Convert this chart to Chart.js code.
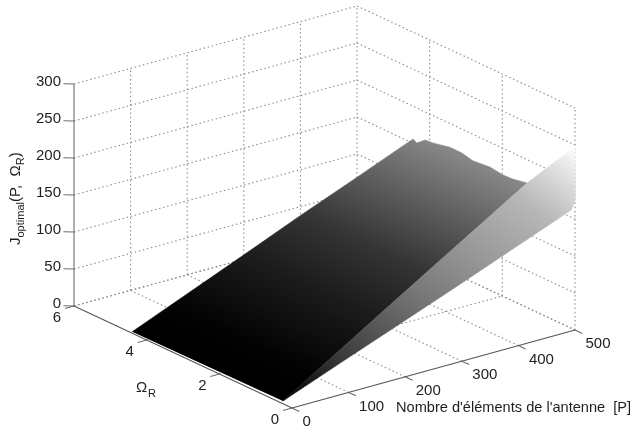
<!DOCTYPE html>
<html>
<head>
<meta charset="utf-8">
<style>html,body{margin:0;padding:0;background:#fff}canvas{display:block}</style>
<script src="https://cdn.jsdelivr.net/npm/chart.js@4"></script>
</head>
<body>
<canvas id="c" width="633" height="430"></canvas>
<script>
// ---- axis ticks ----
const pTicks = [0, 100, 200, 300, 400, 500];
const omegaTicks = [0, 2, 4, 6];
const jTicks = [0, 50, 100, 150, 200, 250, 300];
const pMax = 500, omegaMax = 6;

// ---- surface ----
// left rim of the surface
const leftEdgeP = [0, 100, 200, 300, 400, 500];
const leftEdgeOmega = [4.4, 4.41, 4.42, 4.44, 4.45, 4.46];
const leftEdgeJ = [2, 33, 64, 95, 125, 155.7];
// wavy rim at the far end (P = 500)
const farRowOmega = [4.35, 4.13, 3.91, 3.44, 3.11, 2.81, 2.34, 1.98, 1.71];
const farRowJ = [152.9, 161.9, 163, 168, 167.7, 164, 166.5, 164, 164.7];
// ridge separating the dark slope from the bright strip
const ridgeP = [0, 100, 200, 300, 400, 500];
const ridgeOmega = [0.25, 0.46, 0.68, 0.89, 1.1, 1.32];
const ridgeJ = [3.7, 37, 70, 103, 136, 168.4];
// crest of the bright strip at P = 500
const crestOmega = [0.66, 0];
const crestJ = [208, 247];
const endDropOmega = [0];
const endDropJ = [175];
// low rim of the bright strip
const lowEdgeP = [500, 400, 300, 200, 100, 0];
const lowEdgeOmega = [0.1, 0.1, 0.12, 0.15, 0.2, 0.25];
const lowEdgeJ = [160, 130, 99, 68, 36, 3.7];

// ---- view of the box (orthographic) ----
const view = {ox: 292, oy: 408, px: 283, py: -78, wx: -218, wy: -102, jy: -0.74};
function proj(P, W, J) {
  return {
    x: view.ox + P / pMax * view.px + W / omegaMax * view.wx,
    y: view.oy + P / pMax * view.py + W / omegaMax * view.wy + J * view.jy
  };
}
const seg = (a, b) => [proj(a[0], a[1], a[2]), proj(b[0], b[1], b[2])];

const ctx2d = document.getElementById('c').getContext('2d');
function ramp(x0, y0, x1, y1, stops) {
  const g = ctx2d.createLinearGradient(x0, y0, x1, y1);
  stops.forEach(s => g.addColorStop(s[0], s[1]));
  return g;
}

// ---- surface polygons ----
const darkPoly = [];
leftEdgeP.forEach((p, i) => darkPoly.push(proj(p, leftEdgeOmega[i], leftEdgeJ[i])));
farRowOmega.forEach((w, i) => darkPoly.push(proj(pMax, w, farRowJ[i])));
for (let i = ridgeP.length - 1; i >= 0; i--) darkPoly.push(proj(ridgeP[i], ridgeOmega[i], ridgeJ[i]));

const stripPoly = [];
ridgeP.forEach((p, i) => stripPoly.push(proj(p, ridgeOmega[i], ridgeJ[i])));
crestOmega.forEach((w, i) => stripPoly.push(proj(pMax, w, crestJ[i])));
endDropOmega.forEach((w, i) => stripPoly.push(proj(pMax, w, endDropJ[i])));
lowEdgeP.forEach((p, i) => stripPoly.push(proj(p, lowEdgeOmega[i], lowEdgeJ[i])));

const fStart = proj(ridgeP[0], ridgeOmega[0], ridgeJ[0]);
const darkGrad = ramp(fStart.x, fStart.y, fStart.x + 0.424 * 300, fStart.y - 0.906 * 300, [
  [0, '#000000'], [0.12, '#020202'], [0.39, '#1c1c1c'], [0.59, '#343434'],
  [0.77, '#585858'], [0.98, '#848484'], [1, '#888888']
]);
const stripGrad = ramp(fStart.x, fStart.y, fStart.x + 0.6 * 376, fStart.y - 0.8 * 376, [
  [0, '#000000'], [0.07, '#141414'], [0.2, '#3e3e3e'], [0.43, '#747474'],
  [0.61, '#969696'], [0.81, '#b7b7b7'], [0.92, '#dcdcdc'], [1, '#fbfbfb']
]);

// ---- box lines ----
const dotted = [], solidDark = [], solidGray = [];
jTicks.forEach(j => {
  dotted.push(seg([0, omegaMax, j], [pMax, omegaMax, j]));
  dotted.push(seg([pMax, omegaMax, j], [pMax, 0, j]));
});
pTicks.slice(1).forEach(p => {
  dotted.push(seg([p, omegaMax, 0], [p, omegaMax, 300]));
  dotted.push(seg([p, 0, 0], [p, omegaMax, 0]));
});
omegaTicks.slice(0, -1).forEach(w => dotted.push(seg([pMax, w, 0], [pMax, w, 300])));
omegaTicks.slice(1).forEach(w => dotted.push(seg([0, w, 0], [pMax, w, 0])));

solidGray.push(seg([0, omegaMax, 0], [0, omegaMax, 300]));
solidDark.push(seg([0, 0, 0], [0, omegaMax, 0]));
solidDark.push(seg([0, 0, 0], [pMax, 0, 0]));
// outward tick marks, as short extensions in data units
jTicks.forEach(j => solidGray.push(seg([0, omegaMax, j], [-11, omegaMax + 0.12, j])));
omegaTicks.forEach(w => solidGray.push(seg([0, w, 0], [-16, w, 0])));
pTicks.forEach(p => solidGray.push(seg([p, 0, 0], [p, -0.2, 0])));

const lineSet = (points, color, width, dash, order) => ({
  data: points, showLine: true, pointRadius: 0, borderColor: color,
  borderWidth: width, borderDash: dash || [], fill: false, order, tension: 0
});
const polySet = (points, grad, order) => ({
  data: points, showLine: true, pointRadius: 0, borderColor: grad, borderWidth: 0.5,
  backgroundColor: grad, fill: 'shape', order, tension: 0
});

const datasets = [
  polySet(stripPoly, stripGrad, 1),
  polySet(darkPoly, darkGrad, 2),
  ...solidDark.map(s => lineSet(s, '#555555', 1.1, null, 3)),
  ...solidGray.map(s => lineSet(s, '#6e6e6e', 1.1, null, 3)),
  ...dotted.map(s => lineSet(s, '#8c8c8c', 1.1, [1.5, 2.7], 4))
];

// ---- text ----
const font = size => size + 'px "Liberation Sans", Arial, sans-serif';
const textPlugin = {
  id: 'boxText',
  afterDraw(chart) {
    const c = chart.ctx;
    c.save();
    c.fillStyle = '#1e1e1e';
    c.font = font(15);
    c.textBaseline = 'middle';
    c.textAlign = 'right';
    jTicks.forEach(j => { const q = proj(0, omegaMax, j); c.fillText(String(j), q.x - 13, q.y - 2); });
    c.textAlign = 'center';
    omegaTicks.forEach(w => { const q = proj(0, w, 0); c.fillText(String(w), q.x - 17, q.y + 12); });
    c.textAlign = 'left';
    pTicks.forEach(p => { const q = proj(p, 0, 0); c.fillText(String(p), q.x + 10.5, q.y + 14); });

    c.font = font(14.6);
    c.fillText("Nombre d'éléments de l'antenne  [P]", 396, 408);

    c.font = font(15);
    c.fillText('Ω', 136, 388);
    c.font = font(11);
    c.fillText('R', 148, 394);

    c.translate(20, 245);
    c.rotate(-Math.PI / 2);
    c.textBaseline = 'alphabetic';
    c.font = font(15); c.fillText('J', 0, 0);
    let x = c.measureText('J').width;
    c.font = font(11); c.fillText('optimal', x, 4);
    x += c.measureText('optimal').width;
    c.font = font(15); c.fillText('(P,  Ω', x, 0);
    x += c.measureText('(P,  Ω').width;
    c.font = font(11); c.fillText('R', x, 4);
    x += c.measureText('R').width;
    c.font = font(15); c.fillText(')', x, 0);
    c.restore();
  }
};

new Chart(ctx2d, {
  type: 'scatter',
  data: {datasets},
  options: {
    responsive: false,
    animation: false,
    layout: {padding: 0},
    plugins: {legend: {display: false}, tooltip: {enabled: false}},
    scales: {
      x: {type: 'linear', min: 0, max: 633, display: false},
      y: {type: 'linear', min: 0, max: 430, reverse: true, display: false}
    }
  },
  plugins: [textPlugin]
});
</script>
</body>
</html>
